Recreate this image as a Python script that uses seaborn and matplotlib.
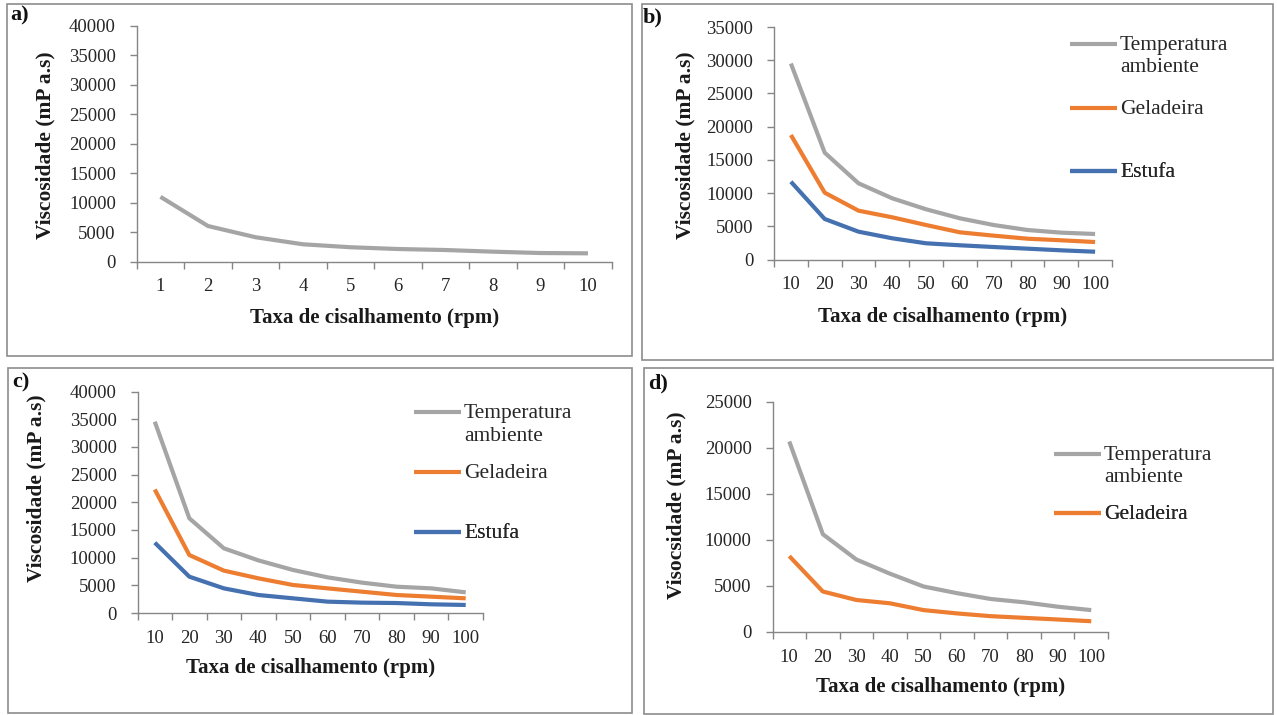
import numpy as np
import pandas as pd
import matplotlib
matplotlib.use("Agg")
import matplotlib.pyplot as plt
import seaborn as sns
from matplotlib.patches import Rectangle

# ---------------- data ----------------
rpm_a = ["1", "2", "3", "4", "5", "6", "7", "8", "9", "10"]
visc_a = [11000, 6050, 4150, 2950, 2450, 2150, 1980, 1700, 1470, 1420]

rpm_bcd = ["10", "20", "30", "40", "50", "60", "70", "80", "90", "100"]

b_temp = [29500, 16080, 11470, 9210, 7560, 6200, 5190, 4440, 4040, 3840]
b_gel = [18740, 10060, 7350, 6350, 5190, 4090, 3590, 3130, 2890, 2630]
b_est = [11710, 6100, 4190, 3190, 2440, 2140, 1880, 1630, 1380, 1170]

c_temp = [34550, 17100, 11680, 9500, 7770, 6440, 5480, 4750, 4450, 3730]
c_gel = [22300, 10470, 7650, 6260, 5060, 4450, 3850, 3250, 2950, 2650]
c_est = [12700, 6560, 4450, 3250, 2650, 2050, 1870, 1800, 1570, 1450]

d_temp = [20710, 10630, 7880, 6340, 4950, 4220, 3590, 3230, 2750, 2380]
d_gel = [8250, 4400, 3480, 3120, 2380, 2020, 1720, 1540, 1360, 1170]

name_temp = "Temperatura\nambiente"
name_gel = "Geladeira"
name_est = "Estufa"

colors = {name_temp: "#A5A5A5", name_gel: "#ED7D31", name_est: "#4571B0"}

xlabel_txt = "Taxa de cisalhamento (rpm)"
ylabel_txt = "Viscosidade (mP a.s)"
ylabel_d_txt = "Visocsidade (mP a.s)"

# ---------------- style ----------------
sns.set_theme(style="white")
plt.rcParams["font.family"] = ["Liberation Serif", "DejaVu Serif"]

W, H = 1277, 715
fig = plt.figure(figsize=(W / 100, H / 100), dpi=100)
fig.patch.set_facecolor("white")


def fx(x):
    return x / W


def fy(y):
    return 1 - y / H


SPINE = "#868686"
TXT = "#262626"


def make_axes(l, t, r, b):
    return fig.add_axes([fx(l), fy(b), (r - l) / W, (b - t) / H])


def draw(ax, cats, series, ymax, ylabel, xl_y, yl_xy):
    rows = []
    for name, vals in series:
        for i, (c, v) in enumerate(zip(cats, vals)):
            rows.append({"pos": i, "rpm": c, "visc": v, "serie": name})
    df = pd.DataFrame(rows)
    names = [s[0] for s in series]
    sns.lineplot(data=df, x="pos", y="visc", hue="serie", hue_order=names,
                 palette={n: colors[n] for n in names}, linewidth=3.0,
                 legend=False, ax=ax, sort=False)
    for ln in ax.get_lines():
        ln.set_solid_joinstyle("round")
        ln.set_solid_capstyle("butt")
    n = len(cats)
    ax.set_xlim(-0.5, n - 0.5)
    ax.set_ylim(0, ymax)
    ax.set_xticks(range(n))
    ax.set_xticklabels(cats)
    ax.set_xticks(np.arange(-0.5, n, 1.0), minor=True)
    ax.set_yticks(np.arange(0, ymax + 1, 5000))
    ax.set_yticklabels([str(int(v)) for v in np.arange(0, ymax + 1, 5000)])
    ax.tick_params(axis="x", which="major", length=0, pad=12,
                   labelsize=13.5, labelcolor=TXT)
    ax.tick_params(axis="x", which="minor", length=5, width=1, color=SPINE,
                   direction="out", bottom=True)
    ax.tick_params(axis="y", which="major", length=5, width=1, color=SPINE,
                   direction="out", left=True, pad=10, labelsize=13.5,
                   labelcolor=TXT)
    for s in ["top", "right"]:
        ax.spines[s].set_visible(False)
    for s in ["left", "bottom"]:
        ax.spines[s].set_color(SPINE)
        ax.spines[s].set_linewidth(1)
    ax.set_facecolor("none")
    ax.grid(False)
    ax.set_xlabel(xlabel_txt, fontsize=15, fontweight="bold", color="#1a1a1a",
                  va="center")
    ax.xaxis.set_label_coords(0.5, xl_y)
    ax.set_ylabel(ylabel, fontsize=15.5, fontweight="bold", color="#1a1a1a",
                  va="center")
    ax.yaxis.set_label_coords(yl_xy[0], yl_xy[1])


def legends(ax, hx, tops):
    lines = ax.get_lines()
    for ln, ty in zip(lines, tops):
        lab = ln.get_label()
        leg = ax.legend([ln], [lab], loc="upper left",
                        bbox_to_anchor=(fx(hx), fy(ty)),
                        bbox_transform=fig.transFigure, borderpad=0,
                        borderaxespad=0, handlelength=2.2, handletextpad=0.12,
                        frameon=False, fontsize=15.5)
        for t in leg.get_texts():
            t.set_color(TXT)
            t.set_linespacing(1.25)
        try:
            for col in leg._legend_handle_box.get_children():
                for item in col.get_children():
                    item.align = "top"
        except Exception:
            pass
        ax.add_artist(leg)


# panel a
ax_a = make_axes(136.7, 25.7, 611.7, 261.7)
draw(ax_a, rpm_a, [(name_temp, visc_a)], 40000, ylabel_txt, -0.239, (-0.193, 0.494))

# panel b
ax_b = make_axes(774, 27, 1112, 259.5)
draw(ax_b, rpm_bcd, [(name_temp, b_temp), (name_gel, b_gel), (name_est, b_est)],
     35000, ylabel_txt, -0.247, (-0.263, 0.492))
for ln, nm in zip(ax_b.get_lines(), [name_temp, name_gel, name_est]):
    ln.set_label(nm)
legends(ax_b, 1070, [36, 100, 163])

# panel c
ax_c = make_axes(137.5, 391.5, 483, 613)
draw(ax_c, rpm_bcd, [(name_temp, c_temp), (name_gel, c_gel), (name_est, c_est)],
     40000, ylabel_txt, -0.248, (-0.291, 0.564))
for ln, nm in zip(ax_c.get_lines(), [name_temp, name_gel, name_est]):
    ln.set_label(nm)
legends(ax_c, 414, [404, 464, 524])

# panel d
ax_d = make_axes(772.5, 402, 1108, 632)
draw(ax_d, rpm_bcd, [(name_temp, d_temp), (name_gel, d_gel)],
     25000, ylabel_d_txt, -0.239, (-0.285, 0.552))
for ln, nm in zip(ax_d.get_lines(), [name_temp, name_gel]):
    ln.set_label(nm)
legends(ax_d, 1054, [446, 505])

# panel borders and letters
for (l, t, r, b) in [(7, 4, 632, 356), (642, 4, 1273, 360),
                     (8, 368, 632, 713), (644, 368, 1273, 714)]:
    fig.add_artist(Rectangle((fx(l), fy(b)), (r - l) / W, (b - t) / H,
                             transform=fig.transFigure, fill=False,
                             edgecolor="#8c8c8c", linewidth=1.2))

for txt, (x, y) in [("a)", (10, 15)), ("b)", (643, 17)),
                    ("c)", (12, 382)), ("d)", (648, 383))]:
    fig.text(fx(x), fy(y), txt, fontsize=16, fontweight="bold",
             ha="left", va="center", color="#111111")

fig.savefig("out.png", dpi=100, facecolor="white")
